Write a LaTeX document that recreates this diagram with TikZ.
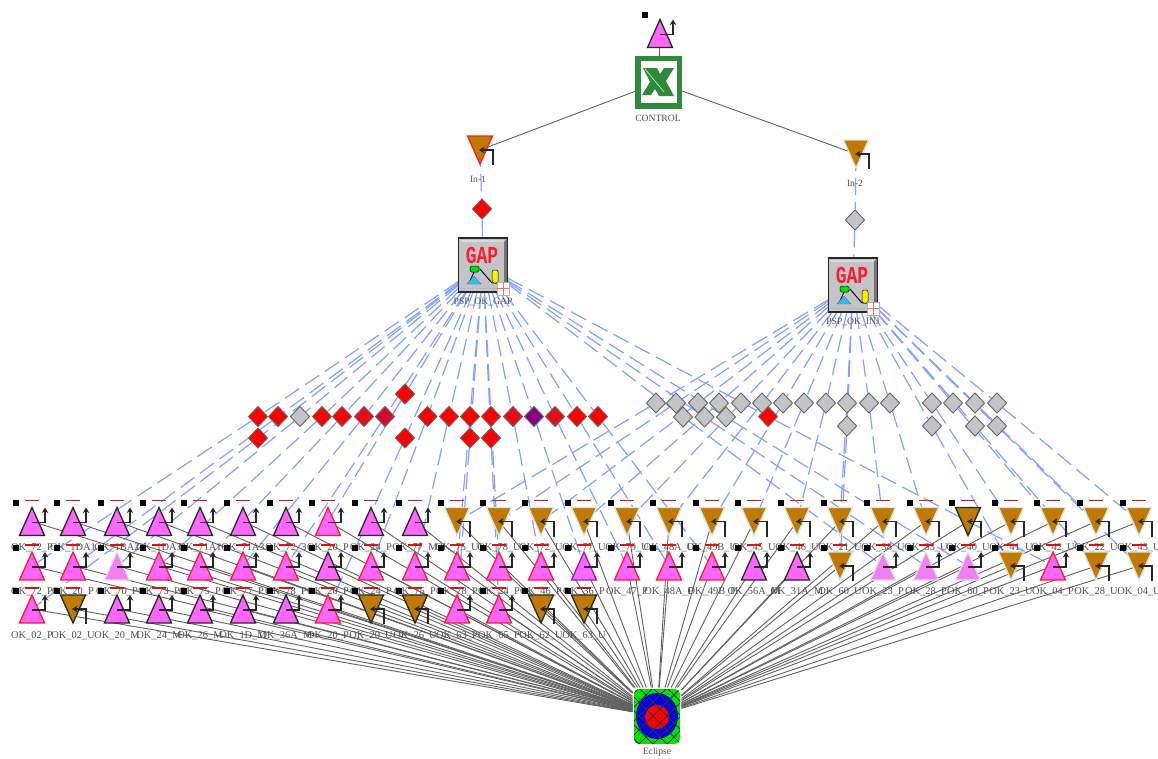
\documentclass[tikz,border=0pt]{standalone}
\usepackage{fontspec}
\setmainfont{Liberation Serif}
\newfontfamily\gapfont{Liberation Mono}
\usetikzlibrary{shapes.geometric,arrows.meta}
\pgfdeclarelayer{bg}
\pgfsetlayers{bg,main}
\definecolor{pnk}{HTML}{FF66FF}
\definecolor{pale}{HTML}{F47FF4}
\definecolor{brn}{HTML}{C07A00}
\definecolor{rdb}{HTML}{FF1A30}
\definecolor{pbd}{HTML}{9A1FA8}
\definecolor{gry}{HTML}{C4C4C8}
\definecolor{rd2}{HTML}{E80C18}
\definecolor{rd3}{HTML}{D00C30}
\definecolor{pur}{HTML}{850085}
\definecolor{xgr}{HTML}{2F8A3C}
\definecolor{bluel}{HTML}{86A0FF}
\definecolor{lblc}{HTML}{505050}
\tikzset{
  pt/.style={inner sep=0pt,minimum size=0pt,outer sep=0pt},
  lbl/.style={inner sep=0pt,text=lblc,font=\fontsize{10.4}{11}\selectfont},
  lblb/.style={inner sep=0pt,text=lblc,font=\fontsize{9.6}{10}\selectfont},
  dia/.style={diamond,aspect=1,inner sep=0pt,minimum width=19.5pt,minimum height=20.5pt,draw=black!60,line width=0.9pt},
  bluedash/.style={draw=bluel,line width=1.2pt,dash pattern=on 17pt off 7pt},
  blackline/.style={draw=black!62,line width=0.9pt},
  elbow/.style={draw=black!85,line width=1.4pt,-{Stealth[length=5.5pt,width=6.5pt]}},
  triup/.style={line width=1.3pt,line join=miter},
  sq/.style={fill=black,draw=none},
  reddash/.style={draw=red!80!black!90,line width=1.1pt}
}
\newcommand{\upshapeW}[2]{%
  \path[triup,draw=#1,fill=#2] (0,-14) -- (12.5,14) -- (-12.5,14) -- cycle;
  \draw[elbow] (0,1) -- (13,1) -- (13,-14);}
\newcommand{\dnshapeW}[2]{%
  \path[triup,draw=#1,fill=#2] (-12.5,-14) -- (12.5,-14) -- (0,14) -- cycle;
  \draw[elbow] (13,15) -- (13,0) -- (-1,0);}
\newcommand{\wkA}{\upshapeW{black!85}{pnk}}
\newcommand{\wkB}{\upshapeW{rdb}{pnk}}
\newcommand{\wkC}{\upshapeW{pbd}{pnk}}
\newcommand{\wkD}{\upshapeW{black!12}{pale}}
\newcommand{\wkE}{\dnshapeW{black!12}{brn}}
\newcommand{\wkF}{\dnshapeW{black!85}{brn}}
\newcommand{\wkG}{\dnshapeW{rdb}{brn}}
\newcommand{\wellW}[6]{% name,x,y,kind,label,label offset
  \node[pt] (#1) at (#2,#3) {};
  \node[lbl] (#1-t) at (#2,#3+#6) {#5};
  \begin{scope}[shift={(#2,#3)}]
    \csname wk#4\endcsname
    \fill[sq] (-19,-21.5) rectangle (-13,-15.5);
    \draw[reddash] (-7,-21) -- (7,-21);
  \end{scope}}
\newcommand{\gapW}[4]{% name,x,y,label
  \node[pt,minimum width=49pt,minimum height=54pt] (#1) at (#2,#3) {};
  \begin{scope}[shift={(#2,#3)}]
    \fill[gry] (-24.5,-27) rectangle (24.5,27);
    \fill[black!55] (-24.5,23) -- (24.5,23) -- (24.5,-27) -- (21,-23) -- (21,23) -- cycle;
    \fill[white!85!black] (-22,-25) rectangle (21,-23);
    \draw[black!85,line width=1.4pt] (-24.5,-27) rectangle (24.5,27);
    \node[pt,text=rdb,font=\gapfont\bfseries\fontsize{18}{18}\selectfont] (#1-g) at (-1,-10) {\scalebox{1}[1.35]{GAP}};
    \draw[black,line width=0.9pt] (-8,5) -- (-14,18);
    \draw[black,line width=0.9pt] (-3,4) -- (9,18) -- (14,18);
    \fill[cyan!80!white,draw=black!60,line width=0.3pt] (-9,11) -- (-2,19) -- (-16,19) -- cycle;
    \fill[green!90!black,draw=black,line width=0.5pt,rounded corners=1.5pt] (-13,1) rectangle (-4,7);
    \fill[yellow,draw=black,line width=0.5pt,rounded corners=2pt] (9,5) rectangle (15,18);
    \fill[white,draw=black!30,line width=0.5pt] (14,17) rectangle (26,30);
    \draw[red!60,line width=0.9pt] (20,17) -- (20,30) (14,23.5) -- (26,23.5);
  \end{scope}
  \node[lblb] (#1-t) at (#2,#3+37) {#4};}
\begin{document}
\begin{tikzpicture}[x=1pt,y=-1pt]
\useasboundingbox (0,0) rectangle (1158,758);
\begin{pgfonlayer}{bg}
\fill[white] (0,0) rectangle (1158,758);
\end{pgfonlayer}

% top well
\node[pt] (top) at (660,33.5) {};
\begin{scope}[shift={(660,33.5)}]
  \wkA
  \fill[sq] (-18,-21.5) rectangle (-12,-15.5);
\end{scope}

% Excel box
\node[pt,minimum width=47pt,minimum height=53pt] (control) at (658.5,82.5) {};
\fill[xgr] (635,56) rectangle (682,109);
\fill[white] (640.7,61) rectangle (677,103);
\fill[xgr] (643,68) -- (657,68) -- (660,74) -- (664,68) -- (674,68) -- (666,81) -- (674,96) -- (659,96) -- (655,89) -- (651,95) -- (642,95) -- (650,82) -- cycle;
\draw[green!40!white,line width=0.7pt] (645,69) -- (664,92);
\node[lblb] (control-t) at (658,118) {CONTROL};

% inputs
\node[pt] (in1) at (480,150) {};
\begin{scope}[shift={(480,150)}]\wkG\end{scope}
\node[lblb] (in1-t) at (478,179) {In-1};
\node[pt] (in2) at (856,154) {};
\begin{scope}[shift={(856,154)}]\wkE\end{scope}
\node[lblb] (in2-t) at (855,183) {In-2};
\node[dia,fill=red] (d1) at (482,209) {};
\node[dia,fill=gry] (d2) at (855,220) {};

% GAP icons
\gapW{gapA}{483}{265}{PSP\_OK\_GAP}
\gapW{gapB}{853}{285}{PSP\_OK\_INJ}

% Eclipse
\node[pt,minimum width=49pt,minimum height=57pt] (eclipse) at (657,716) {};
\begin{scope}
  \clip[rounded corners=5pt] (634,689) rectangle (680,744);
  \fill[green!90!black] (634,689) rectangle (680,744);
  \fill[blue!90!black] (657,716) ellipse (21 and 23);
  \fill[red] (657,717) ellipse (12 and 12);
  \foreach \g in {-60,-46,...,60} {
    \draw[black!80,line width=0.8pt] (657+\g-32,684) -- (657+\g+32,748);
    \draw[black!80,line width=0.8pt] (657+\g+32,684) -- (657+\g-32,748);
  }
\end{scope}
\node[lblb] (eclipse-t) at (657,752) {Eclipse};

% well rows
\foreach \wx/\wk/\wl [count=\i] in {
  32/A/OK\_72\_P, 73/A/OK\_1DA1, 117/A/OK\_1BA2, 159/A/OK\_1DA3, 200/A/OK\_71A1,
  243/A/OK\_71A3, 286/A/OK\_72\_3, 328/B/OK\_20\_P, 371/A/OK\_24\_P, 415/A/OK\_77\_M,
  457/E/OK\_75\_U, 499/E/OK\_78\_U, 541/E/OK\_72\_U, 584/E/OK\_77\_U, 627/E/OK\_79\_U,
  669/E/OK\_48A\_U, 712/E/OK\_49B\_U, 754/E/OK\_45\_U, 797/E/OK\_46\_U, 840/E/OK\_21\_U,
  883/E/OK\_38\_U, 926/E/OK\_33\_U, 968/F/OK\_40\_U, 1011/E/OK\_41\_U, 1053/E/OK\_42\_U,
  1096/E/OK\_22\_U, 1139/E/OK\_43\_U}
  {\wellW{ra\i}{\wx}{521.5}{\wk}{\wl}{26.5}}
\foreach \wx/\wk/\wl [count=\i] in {
  32/B/OK\_72\_P, 73/B/OK\_20\_P, 117/D/OK\_70\_P, 159/B/OK\_73\_P, 200/B/OK\_75\_P,
  243/B/OK\_77\_P, 286/B/OK\_78\_P, 328/A/OK\_20\_P, 371/B/OK\_24\_P, 415/B/OK\_75\_P,
  457/B/OK\_78\_P, 499/B/OK\_24\_P, 541/B/OK\_46\_P, 584/C/OK\_36\_P, 627/B/OK\_47\_P,
  669/B/OK\_48A\_P, 712/B/OK\_49B\_P, 754/A/OK\_56A\_M, 797/A/OK\_31A\_M, 840/E/OK\_60\_U,
  883/D/OK\_23\_P, 926/D/OK\_28\_P, 968/D/OK\_60\_P, 1011/E/OK\_23\_U, 1053/B/OK\_04\_P,
  1096/E/OK\_28\_U, 1139/E/OK\_04\_U}
  {\wellW{rb\i}{\wx}{566}{\wk}{\wl}{26}}
\foreach \wx/\wk/\wl [count=\i] in {
  32/B/OK\_02\_P, 73/F/OK\_02\_U, 117/A/OK\_20\_M, 159/A/OK\_24\_M, 200/A/OK\_26\_M,
  243/A/OK\_1D\_M, 286/A/OK\_36A\_M, 328/B/OK\_20\_P, 371/F/OK\_20\_U, 415/F/OK\_26\_U,
  457/B/OK\_63\_P, 499/B/OK\_65\_P, 541/F/OK\_62\_U, 584/F/OK\_63\_U}
  {\wellW{rc\i}{\wx}{609}{\wk}{\wl}{27}}

% diamonds with their dashed connectors: left injector
\foreach \dx/\dy/\dc/\dt [count=\i] in {
  258/416.5/red/rb1, 278/416.5/red/rb2, 300/416.5/gry/rb3, 322/416.5/red/rb4, 342/416.5/red/rb5,
  364/416.5/rd2/rb6, 385/416.5/rd3/rb7, 405/394/red/ra8, 405/438/red/rc8, 427.5/416.5/red/rb9,
  449/416.5/red/rb10, 470/416.5/red/rb11, 491/416.5/red/rb12, 470/438/red/rc11, 491/438/red/rc12,
  513/416.5/rd2/rb13, 534/416.5/pur/rb14, 555/416.5/rd2/rb15, 577/416.5/red/rb16, 598/416.5/red/rb17,
  768/416.5/red/rb25, 683/417/gry/rb21, 704.5/417/gry/rb22, 726/417/gry/rb23, 258/438/red/rc1}
  {\node[dia,fill=\dc] (la\i) at (\dx,\dy) {};
   \begin{pgfonlayer}{bg}\draw[bluedash] (gapA) -- (la\i) -- (\dt);\end{pgfonlayer}}

% diamonds with their dashed connectors: right injector
\foreach \dx/\dy/\dt [count=\i] in {
  656/403/ra11, 676/403/ra12, 698/403/ra13, 719/403/ra14, 741/403/ra15, 762/403/ra16,
  783/403/ra17, 804/403/ra18, 826/403/ra19, 847/403/ra20, 869/403/ra21, 890/403/ra22,
  932/403/ra24, 953/403/ra25, 975/403/ra26, 997/403/ra27,
  847/426/rb20, 932/426/rb24, 975/426/rb26, 997/426/rb27}
  {\node[dia,fill=gry] (lb\i) at (\dx,\dy) {};
   \begin{pgfonlayer}{bg}\draw[bluedash] (gapB) -- (lb\i) -- (\dt);\end{pgfonlayer}}

% other connectors
\begin{pgfonlayer}{bg}
  \draw[bluedash] (in1) -- (d1) -- (gapA);
  \draw[bluedash] (in2) -- (d2) -- (gapB);
  \draw[blackline] (top) -- (control);
  \draw[blackline] (control) -- (in1);
  \draw[blackline] (control) -- (in2);
  \foreach \i in {1,...,27} {
    \draw[blackline] (ra\i) -- (eclipse);
    \draw[blackline] (rb\i) -- (eclipse);
  }
  \foreach \i in {1,...,14} {\draw[blackline] (rc\i) -- (eclipse);}
\end{pgfonlayer}
\end{tikzpicture}
\end{document}
